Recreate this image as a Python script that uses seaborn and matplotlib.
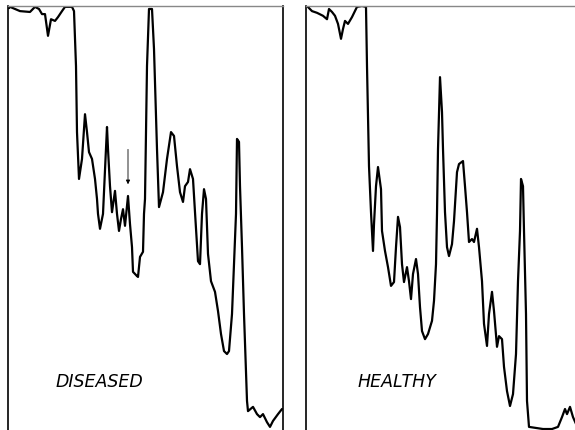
import pandas as pd
import matplotlib.pyplot as plt
import seaborn as sns

# spectra (x = position across panel, y = % transmittance)
diseased_x = [1, 2, 12, 22, 27, 31, 34, 37, 40, 43, 47, 50, 54, 57, 64, 66, 68, 69, 71, 74,
              77, 79, 81, 84, 87, 89, 90, 92, 95, 97, 99, 100, 102, 104, 107, 109, 111, 113, 115, 117,
              120, 122, 124, 125, 129, 130, 132, 135, 136, 137, 139, 141, 144, 146, 149, 151, 155, 159, 163, 166,
              169, 172, 175, 177, 180, 182, 185, 187, 190, 192, 194, 196, 198, 200, 203, 207, 210, 213, 216, 219,
              221, 224, 226, 228, 229, 231, 232, 234, 236, 239, 240, 245, 249, 252, 255, 259, 262, 265, 270, 274]
diseased_y = [99.5, 99.8, 98.8, 98.6, 99.8, 99.3, 98.1, 98.1, 93.0, 96.9, 96.5, 97.4, 98.8, 99.8, 99.8, 98.8, 85.9, 70.4, 59.4, 64.1,
              74.6, 70.4, 65.7, 64.1, 59.4, 54.7, 51.2, 47.7, 51.2, 61.5, 71.6, 66.4, 57.7, 51.6, 56.6, 51.2, 47.2, 50.0, 52.3, 48.4,
              55.4, 48.8, 43.4, 37.6, 36.6, 36.4, 41.1, 42.3, 51.2, 54.7, 85.9, 99.3, 99.3, 89.9, 66.4, 52.8, 56.3, 64.1, 70.4, 69.5,
              62.4, 56.3, 54.0, 57.7, 58.7, 61.7, 59.4, 51.6, 40.1, 39.4, 51.2, 57.0, 54.7, 41.8, 35.4, 32.9, 28.4, 23.0, 19.0, 18.3,
              19.0, 27.7, 39.4, 51.2, 68.8, 68.1, 57.7, 43.4, 27.7, 7.3, 4.9, 5.9, 4.2, 3.5, 4.2, 2.3, 1.2, 2.6, 4.2, 5.4]

healthy_x = [1, 6, 11, 17, 21, 23, 26, 29, 32, 35, 37, 39, 42, 46, 51, 56, 60, 61, 63, 65,
             67, 68, 70, 72, 75, 76, 79, 82, 85, 88, 90, 92, 94, 96, 98, 101, 103, 105, 107, 110,
             112, 114, 116, 119, 122, 126, 128, 130, 131, 132, 134, 136, 137, 139, 141, 143, 146, 148, 151, 153,
             157, 159, 161, 163, 166, 168, 171, 173, 176, 178, 181, 183, 186, 188, 191, 193, 196, 198, 201, 204,
             207, 210, 212, 214, 215, 217, 218, 220, 221, 223, 237, 246, 252, 256, 259, 261, 264, 267, 270]
healthy_y = [100.0, 98.8, 98.4, 97.7, 96.9, 99.3, 98.6, 97.7, 95.8, 92.3, 94.6, 96.5, 95.8, 97.4, 99.8, 100.0, 99.8, 85.9, 62.4, 51.6,
             42.5, 48.8, 57.7, 62.2, 57.0, 47.2, 42.5, 38.7, 34.3, 35.2, 43.4, 50.5, 48.1, 39.4, 35.2, 38.7, 35.4, 31.2, 37.1, 40.6,
             37.1, 29.3, 23.7, 21.8, 23.0, 26.1, 30.8, 39.4, 51.2, 66.4, 83.3, 75.1, 66.4, 51.6, 43.4, 41.3, 44.1, 49.5, 61.0, 62.9,
             63.6, 57.7, 51.6, 44.6, 45.3, 44.6, 47.7, 43.4, 35.4, 25.4, 20.2, 27.7, 32.9, 28.4, 20.0, 22.5, 21.8, 15.3, 9.6, 6.1,
             8.9, 18.3, 35.4, 47.2, 59.4, 57.7, 47.2, 27.7, 7.3, 1.2, 0.7, 0.7, 1.2, 3.5, 5.4, 4.2, 5.9, 3.5, 1.9]

panel_labels = ['DISEASED', 'HEALTHY']
arrow_x = 120

sns.set_style('white')
plt.rcParams['font.family'] = ['DejaVu Sans']

fig = plt.figure(figsize=(5.75, 4.31), dpi=100)
ax1 = fig.add_axes([8 / 575, -2 / 431, 275 / 575, 426 / 431])
ax2 = fig.add_axes([306 / 575, -2 / 431, 275 / 575, 426 / 431])

df1 = pd.DataFrame({'x': diseased_x, 'y': diseased_y})
df2 = pd.DataFrame({'x': healthy_x, 'y': healthy_y})

for ax, df, label in [(ax1, df1, panel_labels[0]), (ax2, df2, panel_labels[1])]:
    sns.lineplot(data=df, x='x', y='y', ax=ax, color='black', linewidth=1.6, sort=False,
                 solid_joinstyle='round', solid_capstyle='round')
    ax.set_xlim(0, 275)
    ax.set_ylim(0, 100)
    ax.set_xticks([])
    ax.set_yticks([])
    ax.set_xlabel('')
    ax.set_ylabel('')
    ax.text(91, 12, label, fontsize=12.5, fontstyle='italic', color='black',
            ha='center', va='center')
    ax.spines['bottom'].set_visible(False)
    ax.spines['top'].set_color('#888888')
    ax.spines['top'].set_linewidth(1.0)
    ax.spines['left'].set_color('black')
    ax.spines['left'].set_linewidth(1.2)
    ax.spines['right'].set_color('black')
    ax.spines['right'].set_linewidth(1.2)

ax2.spines['right'].set_visible(False)

ax1.annotate('', xy=(arrow_x, 57.5), xytext=(arrow_x, 67),
             arrowprops=dict(arrowstyle='-|>', color='black', lw=0.6, mutation_scale=6))

fig.savefig('out.png', dpi=100)
